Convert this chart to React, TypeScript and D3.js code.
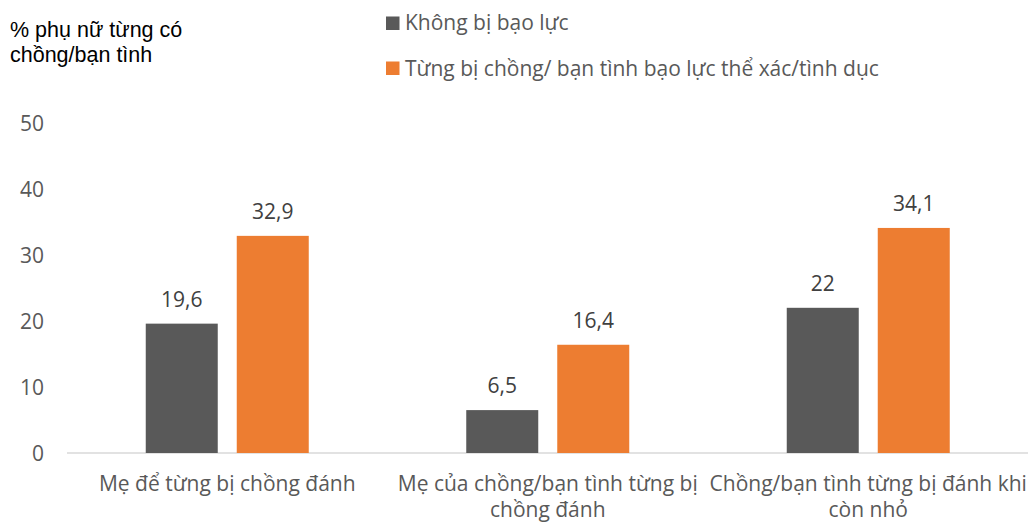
import React from "react";
import * as d3 from "d3";

const categories: string[][] = [
  ["Mẹ để từng bị chồng đánh"],
  ["Mẹ của chồng/bạn tình từng bị", "chồng đánh"],
  ["Chồng/bạn tình từng bị đánh khi", "còn nhỏ"],
];
const seriesNames = ["Không bị bạo lực", "Từng bị chồng/ bạn tình bạo lực thể xác/tình dục"];
const noViolence = [19.6, 6.5, 22];
const violence = [32.9, 16.4, 34.1];
const yTicks = [0, 10, 20, 30, 40, 50];
const colors = ["#595959", "#ED7D31"];

const fmt = (v: number) => String(v).replace(".", ",");

export default function App() {
  const W = 1028, H = 524;
  const left = 67, right = 1028.5;
  const y = d3.scaleLinear().domain([0, 50]).range([453, 123]);
  const x0 = d3.scaleBand<number>().domain([0, 1, 2]).range([left, right]);
  const barW = 72, gap = 19;
  const font = "'Open Sans', Lato, sans-serif";
  const fs = 21;
  const series = [noViolence, violence];
  return (
    <svg width={W} height={H} style={{ position: "absolute", left: 0, top: 0, background: "#fff" }}>
      <text x={10} y={37} fontFamily="'Liberation Sans', Arial, sans-serif" fontSize={21.5} fill="#000">% phụ nữ từng có</text>
      <text x={10} y={62} fontFamily="'Liberation Sans', Arial, sans-serif" fontSize={21.5} fill="#000">chồng/bạn tình</text>
      {seriesNames.map((n, i) => (
        <g key={n}>
          <rect x={386} y={16.5 + i * 45} width={13.5} height={13.5} fill={colors[i]} />
          <text x={405} y={30 + i * 46} fontFamily={font} fontSize={fs} fill="#595959">{n}</text>
        </g>
      ))}
      {yTicks.map((t) => (
        <text key={t} x={44} y={y(t) + 7.5} textAnchor="end" fontFamily={font} fontSize={fs} fill="#595959">{t}</text>
      ))}
      <line x1={left} x2={right} y1={y(0)} y2={y(0)} stroke="#D9D9D9" strokeWidth={1.5} />
      {categories.map((c, ci) => {
        const cx = (x0(ci) as number) + x0.bandwidth() / 2;
        return (
          <g key={ci}>
            {series.map((s, si) => {
              const bx = cx - gap / 2 - barW + si * (barW + gap);
              return (
                <g key={si}>
                  <rect x={bx} y={y(s[ci])} width={barW} height={y(0) - y(s[ci])} fill={colors[si]} />
                  <text x={bx + barW / 2} y={y(s[ci]) - 17} textAnchor="middle" fontFamily={font} fontSize={fs} fill="#404040">{fmt(s[ci])}</text>
                </g>
              );
            })}
            {c.map((line, li) => (
              <text key={li} x={cx} y={491 + li * 26} textAnchor="middle" fontFamily={font} fontSize={fs} fill="#595959">{line}</text>
            ))}
          </g>
        );
      })}
    </svg>
  );
}
